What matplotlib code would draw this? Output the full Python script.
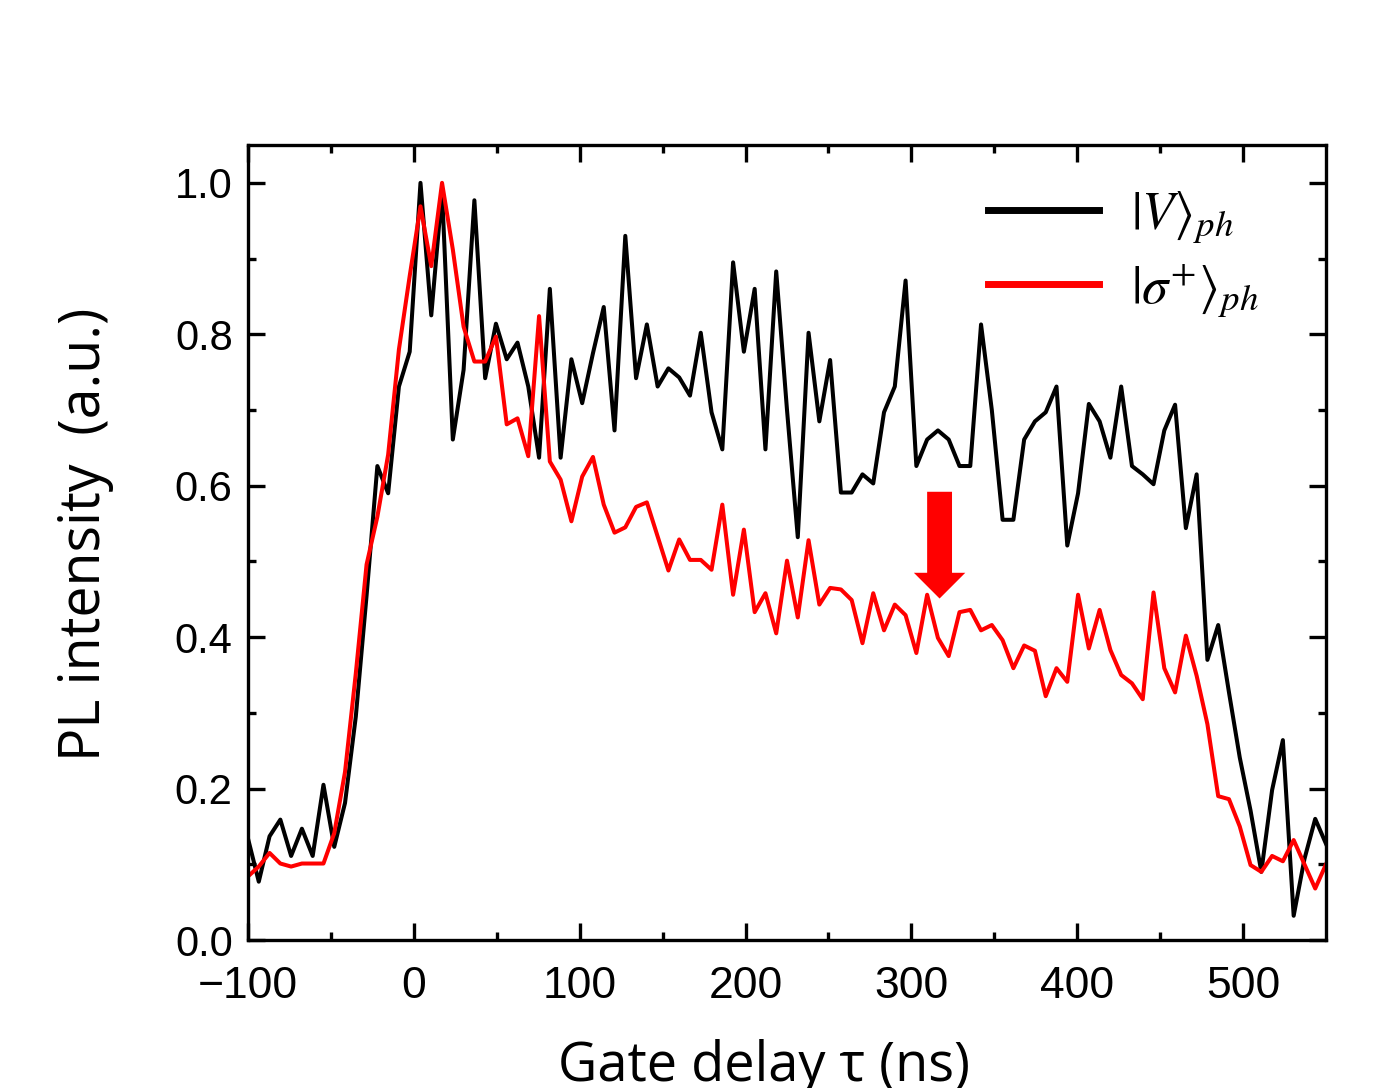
import numpy as np
import matplotlib
matplotlib.use('Agg')
import matplotlib.pyplot as plt

plt.rcParams['mathtext.fontset'] = 'stix'

# gate delay grid, 6.5 ns step
gate_delay = -100 + 6.5 * np.arange(101)

pl_v = [0.134, 0.077, 0.137, 0.159, 0.111, 0.147, 0.111, 0.205, 0.123, 0.181,
        0.295, 0.455, 0.626, 0.590, 0.731, 0.777, 1.000, 0.825, 0.989, 0.661,
        0.753, 0.977, 0.742, 0.814, 0.767, 0.789, 0.731, 0.637, 0.860, 0.637,
        0.767, 0.709, 0.775, 0.836, 0.673, 0.930, 0.742, 0.813, 0.731, 0.755,
        0.743, 0.719, 0.802, 0.697, 0.648, 0.895, 0.777, 0.860, 0.648, 0.883,
        0.700, 0.532, 0.802, 0.685, 0.766, 0.591, 0.591, 0.615, 0.603, 0.697,
        0.731, 0.871, 0.626, 0.661, 0.673, 0.661, 0.626, 0.626, 0.813, 0.700,
        0.555, 0.555, 0.661, 0.685, 0.697, 0.731, 0.521, 0.590, 0.708, 0.685,
        0.637, 0.731, 0.626, 0.615, 0.602, 0.673, 0.707, 0.544, 0.615, 0.370,
        0.416, 0.327, 0.241, 0.171, 0.090, 0.198, 0.264, 0.032, 0.107, 0.160,
        0.127]

pl_sigma = [0.084, 0.097, 0.115, 0.101, 0.097, 0.101, 0.101, 0.101, 0.141, 0.222,
            0.352, 0.496, 0.559, 0.641, 0.780, 0.877, 0.969, 0.890, 1.000, 0.912,
            0.810, 0.764, 0.764, 0.797, 0.681, 0.689, 0.639, 0.824, 0.632, 0.608,
            0.553, 0.612, 0.638, 0.575, 0.538, 0.545, 0.572, 0.578, 0.533, 0.488,
            0.529, 0.502, 0.502, 0.489, 0.575, 0.456, 0.542, 0.433, 0.458, 0.405,
            0.501, 0.426, 0.528, 0.443, 0.465, 0.463, 0.449, 0.392, 0.458, 0.409,
            0.443, 0.429, 0.379, 0.456, 0.399, 0.375, 0.433, 0.436, 0.409, 0.416,
            0.396, 0.359, 0.389, 0.382, 0.322, 0.359, 0.341, 0.456, 0.385, 0.436,
            0.383, 0.350, 0.339, 0.318, 0.459, 0.359, 0.327, 0.402, 0.349, 0.285,
            0.190, 0.186, 0.150, 0.099, 0.090, 0.111, 0.104, 0.132, 0.100, 0.068,
            0.100]

labels = [r'$|V\rangle_{ph}$', r'$|\sigma^{+}\rangle_{ph}$']

fig = plt.figure(figsize=(14, 10.88), dpi=100)
ax = fig.add_axes([248 / 1400, 1 - 940 / 1088, 1078 / 1400, 795 / 1088])

ax.plot(gate_delay, pl_v, color='black', lw=2.9, label=labels[0])
ax.plot(gate_delay, pl_sigma, color='#ff0000', lw=2.9, label=labels[1])

# red arrow
ax.arrow(317, 0.592, 0, -0.141, width=15, head_width=31, head_length=0.034,
         length_includes_head=True, color='#ff0000', lw=0)

ax.set_xlim(-100, 550)
ax.set_ylim(0, 1.05)
ax.set_xticks([-100, 0, 100, 200, 300, 400, 500])
ax.set_xticks(np.arange(-50, 550, 100), minor=True)
ax.set_yticks([0, 0.2, 0.4, 0.6, 0.8, 1.0])
ax.set_yticks([0.1, 0.3, 0.5, 0.7, 0.9], minor=True)
ax.set_yticklabels(['0.0', '0.2', '0.4', '0.6', '0.8', '1.0'])

ax.tick_params(which='both', direction='in', top=True, right=True, width=2.4)
ax.tick_params(which='major', length=12)
ax.tick_params(which='minor', length=6)
ax.tick_params(axis='x', which='major', labelsize=32, pad=19)
ax.tick_params(axis='y', which='major', labelsize=30, pad=11)
for lab in ax.get_xticklabels() + ax.get_yticklabels():
    lab.set_family(['Liberation Sans', 'DejaVu Sans'])
for s in ax.spines.values():
    s.set_linewidth(2.4)

leg = ax.legend(loc='upper left', bbox_to_anchor=(0.686, 0.946), frameon=False,
                fontsize=38, handlelength=2.12, handletextpad=0.6,
                labelspacing=0.3, borderpad=0, borderaxespad=0)
for ln in leg.get_lines():
    ln.set_linewidth(5)

fig.text(100 / 1400, 1 - 534 / 1088, 'PL intensity  (a.u.)', rotation=90,
         rotation_mode='anchor', ha='center', va='baseline', fontsize=40,
         family=['Open Sans', 'DejaVu Sans'])
# the reference crops this label at the bottom edge as well
fig.text(764 / 1400, 1 - 1081 / 1088, 'Gate delay τ (ns)', ha='center',
         va='baseline', fontsize=39, family=['Open Sans', 'DejaVu Sans'])

fig.savefig('out.png', dpi=100)
